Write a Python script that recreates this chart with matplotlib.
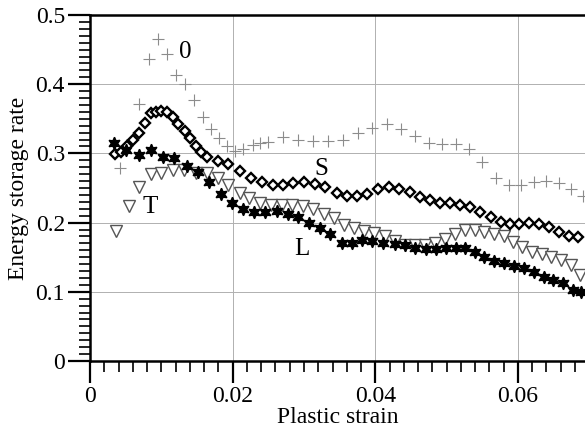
import numpy as np
import matplotlib
matplotlib.use("Agg")
import matplotlib.pyplot as plt
from matplotlib.ticker import MultipleLocator

# curve "0" (plus markers)
x0 = [0.0042, 0.0069, 0.0083, 0.0095, 0.0108, 0.0120, 0.0133, 0.0146, 0.0158, 0.0169,
      0.0181, 0.0192, 0.0203, 0.0215, 0.0228, 0.0238, 0.0250, 0.0271, 0.0292, 0.0313,
      0.0334, 0.0355, 0.0376, 0.0396, 0.0417, 0.0436, 0.0456, 0.0475, 0.0494, 0.0513,
      0.0532, 0.0550, 0.0569, 0.0587, 0.0604, 0.0623, 0.0640, 0.0658, 0.0675, 0.0691]
y0 = [0.279, 0.371, 0.436, 0.466, 0.444, 0.413, 0.400, 0.377, 0.353, 0.335,
      0.322, 0.311, 0.304, 0.306, 0.312, 0.315, 0.317, 0.324, 0.320, 0.318,
      0.318, 0.320, 0.329, 0.337, 0.342, 0.335, 0.325, 0.315, 0.313, 0.313,
      0.306, 0.287, 0.265, 0.254, 0.254, 0.259, 0.260, 0.257, 0.248, 0.239]

# curve S (open diamonds)
xs = [0.0035, 0.0044, 0.0052, 0.0060, 0.0069, 0.0077, 0.0085, 0.0093, 0.0100, 0.0108,
      0.0116, 0.0124, 0.0133, 0.0140, 0.0149, 0.0156, 0.0164, 0.0179, 0.0194, 0.0210,
      0.0226, 0.0241, 0.0256, 0.0270, 0.0285, 0.0300, 0.0315, 0.0330, 0.0346, 0.0361,
      0.0375, 0.0389, 0.0404, 0.0419, 0.0433, 0.0448, 0.0462, 0.0476, 0.0491, 0.0505,
      0.0519, 0.0533, 0.0547, 0.0562, 0.0576, 0.0589, 0.0602, 0.0616, 0.0630, 0.0644,
      0.0658, 0.0671, 0.0684]
ys = [0.299, 0.302, 0.310, 0.319, 0.329, 0.344, 0.358, 0.360, 0.361, 0.360,
      0.353, 0.343, 0.332, 0.322, 0.311, 0.302, 0.295, 0.289, 0.285, 0.275,
      0.265, 0.258, 0.255, 0.254, 0.257, 0.258, 0.256, 0.251, 0.243, 0.238,
      0.239, 0.242, 0.248, 0.252, 0.249, 0.244, 0.237, 0.233, 0.229, 0.228,
      0.225, 0.222, 0.215, 0.208, 0.201, 0.198, 0.198, 0.199, 0.198, 0.194,
      0.187, 0.181, 0.179]

# curve L (black stars)
xl = [0.0034, 0.0051, 0.0069, 0.0085, 0.0102, 0.0118, 0.0136, 0.0151, 0.0167, 0.0183,
      0.0199, 0.0215, 0.0230, 0.0246, 0.0262, 0.0277, 0.0292, 0.0307, 0.0322, 0.0337,
      0.0353, 0.0367, 0.0382, 0.0396, 0.0411, 0.0427, 0.0442, 0.0456, 0.0471, 0.0485,
      0.0499, 0.0513, 0.0526, 0.0540, 0.0553, 0.0567, 0.0581, 0.0595, 0.0609, 0.0622,
      0.0636, 0.0649, 0.0663, 0.0677, 0.0689]
yl = [0.315, 0.305, 0.298, 0.305, 0.295, 0.294, 0.282, 0.273, 0.258, 0.242,
      0.228, 0.219, 0.215, 0.215, 0.217, 0.213, 0.208, 0.200, 0.192, 0.183,
      0.171, 0.170, 0.175, 0.174, 0.170, 0.169, 0.168, 0.163, 0.162, 0.162,
      0.163, 0.163, 0.163, 0.157, 0.150, 0.145, 0.141, 0.137, 0.134, 0.129,
      0.122, 0.117, 0.112, 0.103, 0.100]

# curve T (open triangles)
xt = [0.0036, 0.0054, 0.0069, 0.0086, 0.0100, 0.0117, 0.0132, 0.0149, 0.0164, 0.0179,
      0.0194, 0.0210, 0.0223, 0.0238, 0.0254, 0.0269, 0.0283, 0.0298, 0.0313, 0.0328,
      0.0342, 0.0356, 0.0370, 0.0384, 0.0398, 0.0413, 0.0427, 0.0442, 0.0456, 0.0469,
      0.0484, 0.0498, 0.0512, 0.0526, 0.0540, 0.0552, 0.0566, 0.0580, 0.0593, 0.0606,
      0.0620, 0.0634, 0.0647, 0.0661, 0.0674, 0.0687]
yt = [0.188, 0.224, 0.251, 0.270, 0.272, 0.276, 0.276, 0.272, 0.271, 0.264,
      0.255, 0.243, 0.235, 0.228, 0.225, 0.226, 0.225, 0.224, 0.220, 0.213,
      0.206, 0.197, 0.192, 0.188, 0.185, 0.180, 0.173, 0.168, 0.167, 0.168,
      0.171, 0.176, 0.184, 0.189, 0.189, 0.187, 0.184, 0.180, 0.172, 0.165,
      0.158, 0.155, 0.151, 0.146, 0.139, 0.124]

plt.rcParams['font.family'] = ['Liberation Serif', 'DejaVu Serif']

fig = plt.figure(figsize=(5.85, 4.32), dpi=100)
ax = fig.add_axes([90 / 585, 1 - 361 / 432, 1 - 90 / 585, 346 / 432])

ax.plot(x0, y0, linestyle='none', marker='+', markersize=8, mew=0.8, color='#8c8c8c')
ax.plot(xt, yt, linestyle='none', marker='v', markersize=8.5, mew=1.0,
        markerfacecolor='white', markeredgecolor='#555555')
ax.plot(xs, ys, linestyle='none', marker='D', markersize=5, mew=1.7,
        markerfacecolor='white', markeredgecolor='black')
ax.plot(xl, yl, linestyle='none', marker=(6, 1, 0), markersize=9, color='black')

ax.text(0.0133, 0.447, '0', fontsize=18, ha='center', va='center')
ax.text(0.0325, 0.278, 'S', fontsize=18, ha='center', va='center')
ax.text(0.0085, 0.222, 'T', fontsize=18, ha='center', va='center')
ax.text(0.0297, 0.162, 'L', fontsize=18, ha='center', va='center')

ax.set_xlim(0, 0.0694)
ax.set_ylim(0, 0.5)
ax.xaxis.set_minor_locator(MultipleLocator(0.002))
ax.yaxis.set_minor_locator(MultipleLocator(0.01))
ax.set_xticks([0, 0.02, 0.04, 0.06])
ax.set_xticklabels(['0', '0.02', '0.04', '0.06'])
ax.set_yticks([0, 0.1, 0.2, 0.3, 0.4, 0.5])
ax.set_yticklabels(['0', '0.1', '0.2', '0.3', '0.4', '0.5'])

ax.tick_params(which='major', direction='out', length=16, width=1.6, labelsize=17, pad=2)
ax.tick_params(which='minor', direction='out', length=8, width=1.2)
ax.grid(True, which='major', color='#b0b0b0', linewidth=0.7)
ax.set_axisbelow(True)

for side in ['left', 'bottom', 'top']:
    ax.spines[side].set_linewidth(1.8)
ax.spines['right'].set_visible(False)

ax.set_xlabel('Plastic strain', fontsize=17, labelpad=0)
ax.set_ylabel('Energy storage rate', fontsize=17, labelpad=5)

fig.savefig('out.png', dpi=100)
